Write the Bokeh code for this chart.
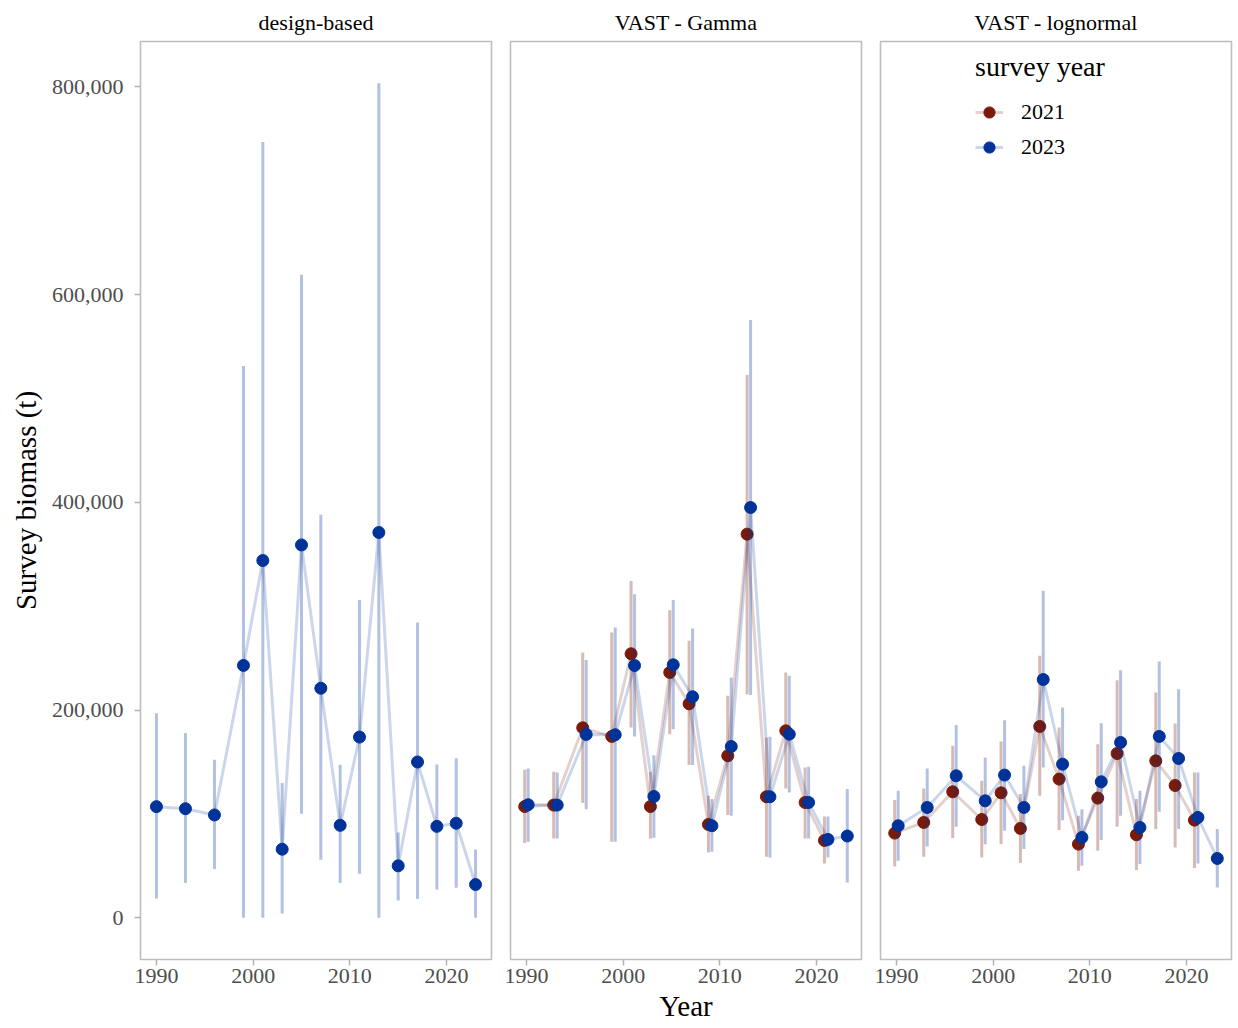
from bokeh.plotting import figure
from bokeh.layouts import row
from bokeh.models import (Range1d, FixedTicker, NumeralTickFormatter, Legend,
                          LegendItem, ColumnDataSource)
from bokeh.transform import dodge
from bokeh.embed import file_html
from bokeh.resources import INLINE

FONT = "Liberation Serif"
RED = "#7A1A08"
BLUE = "#00339A"

# ---------------- data ----------------
years_all = [1990, 1993, 1996, 1999, 2001, 2003, 2005, 2007, 2009, 2011,
             2013, 2015, 2017, 2019, 2021, 2023]
years_2021 = years_all[:-1]

# design-based (2023 survey year)
db_est = [107000, 105000, 99000, 243000, 344000, 66000, 359000, 221000,
          89000, 174000, 371000, 50000, 150000, 88000, 91000, 32000]
db_lo = [18600, 33400, 46900, 0, 0, 4100, 100100, 55800,
         33400, 42400, 0, 16700, 18000, 27300, 28900, 0]
db_hi = [197000, 177800, 152100, 531400, 747000, 129700, 619300, 388000,
         147300, 306100, 803600, 82100, 284300, 147600, 153700, 65800]

# VAST - Gamma
g21_est = [107100, 108500, 182900, 174600, 254200, 107100, 236200, 206000,
           89800, 156000, 369400, 116500, 180000, 111000, 74400]
g21_lo = [71900, 76300, 110400, 73200, 183200, 76300, 176800, 147000,
          62900, 98900, 215300, 58700, 124500, 76300, 52300]
g21_hi = [142500, 140600, 255400, 274700, 324400, 140600, 296200, 266700,
          117400, 213700, 522700, 173600, 236200, 144700, 97500]
g23_est = [108800, 108500, 176500, 176200, 242900, 116800, 243600, 212800,
           88600, 164900, 395000, 116500, 176800, 111000, 75400, 78700]
g23_lo = [73200, 76300, 104600, 73200, 174600, 77000, 181600, 147000,
          63500, 98200, 214400, 58100, 120600, 76300, 58100, 34000]
g23_hi = [143700, 139900, 248100, 279500, 311600, 156600, 306100, 278500,
          114300, 231300, 575700, 174200, 233000, 145400, 97500, 123900]

# VAST - lognormal
l21_est = [81500, 91800, 121300, 94600, 120300, 86000, 184200, 133500,
           70900, 115200, 158200, 79900, 151100, 127400, 94000]
l21_lo = [49400, 58700, 76700, 58100, 70900, 52700, 117400, 84400,
          45200, 64500, 87600, 45900, 85400, 67700, 47800]
l21_hi = [113300, 124500, 165600, 131900, 169700, 119100, 252200, 183200,
          98200, 167100, 228800, 114300, 216900, 187100, 139900]
l23_est = [88600, 106200, 136700, 112600, 137400, 106200, 229400, 147900,
           77300, 130900, 168800, 86900, 174600, 153400, 96600, 57100]
l23_lo = [54900, 68700, 87600, 70900, 83800, 66100, 144700, 93900,
          50100, 74800, 98200, 51700, 102000, 85400, 52300, 29200]
l23_hi = [122300, 143700, 185500, 154300, 190200, 146300, 314800, 202500,
          104600, 187400, 238400, 122300, 246700, 220100, 139900, 85400]

panel_titles = ["design-based", "VAST - Gamma", "VAST - lognormal"]
x_ticks = [1990, 2000, 2010, 2020]
y_ticks = [0, 200000, 400000, 600000, 800000]

# ---------------- layout ----------------
Y0, Y1 = -40200, 843800
X0, X1 = 1988.35, 2024.65
FW, FH = 351, 918
y_range = Range1d(Y0, Y1)


def make_panel(title, left, right, show_y, xlabel=None):
    p = figure(frame_width=FW, frame_height=FH, x_range=Range1d(X0, X1),
               y_range=y_range, output_backend="svg", toolbar_location=None,
               min_border_left=left, min_border_right=right,
               min_border_top=41, min_border_bottom=40,
               y_axis_location="left" if show_y else None,
               background_fill_color="white", border_fill_color="white")
    p.title.text = title
    p.title.align = "center"
    p.title.text_font = FONT
    p.title.text_font_size = "22px"
    p.title.text_font_style = "normal"
    p.title.text_color = "black"
    p.title.standoff = 14
    p.grid.visible = False
    p.outline_line_color = "#BEBEBE"
    p.outline_line_width = 1.6
    p.xaxis.ticker = FixedTicker(ticks=x_ticks)
    p.xaxis.minor_tick_line_color = None
    p.xaxis.axis_line_color = None
    p.xaxis.major_tick_line_color = "#B3B3B3"
    p.xaxis.major_tick_line_width = 1.5
    p.xaxis.major_tick_in = 0
    p.xaxis.major_tick_out = 6
    p.xaxis.major_label_standoff = 3
    p.xaxis.major_label_text_font = FONT
    p.xaxis.major_label_text_font_size = "22px"
    p.xaxis.major_label_text_color = "#4D4D4D"
    if xlabel:
        p.xaxis.axis_label = xlabel
        p.xaxis.axis_label_text_font = FONT
        p.xaxis.axis_label_text_font_size = "29px"
        p.xaxis.axis_label_text_font_style = "normal"
        p.xaxis.axis_label_text_color = "black"
        p.xaxis.axis_label_standoff = 4
    if show_y:
        p.yaxis.ticker = FixedTicker(ticks=y_ticks)
        p.yaxis.formatter = NumeralTickFormatter(format="0,0")
        p.yaxis.minor_tick_line_color = None
        p.yaxis.axis_line_color = None
        p.yaxis.major_tick_line_color = "#B3B3B3"
        p.yaxis.major_tick_line_width = 1.5
        p.yaxis.major_tick_in = 0
        p.yaxis.major_tick_out = 6
        p.yaxis.major_label_standoff = 11
        p.yaxis.major_label_text_font = FONT
        p.yaxis.major_label_text_font_size = "22px"
        p.yaxis.major_label_text_color = "#4D4D4D"
        p.yaxis.axis_label = "Survey biomass (t)"
        p.yaxis.axis_label_text_font = FONT
        p.yaxis.axis_label_text_font_size = "29px"
        p.yaxis.axis_label_text_font_style = "normal"
        p.yaxis.axis_label_text_color = "black"
        p.yaxis.axis_label_standoff = 7
    return p


def add_series(p, years, est, lo, hi, color, off):
    src = ColumnDataSource(dict(year=years, est=est, lo=lo, hi=hi))
    xx = dodge("year", off)
    p.segment(x0=xx, y0="lo", x1=xx, y1="hi", source=src,
              line_color=color, line_alpha=0.3, line_width=3)
    ln = p.line(x=xx, y="est", source=src, line_color=color,
                line_alpha=0.2, line_width=3)
    sc = p.scatter(x=xx, y="est", source=src, marker="circle", size=12,
                   fill_color=color, line_color=color)
    return ln, sc


p1 = make_panel(panel_titles[0], 140, 9, True)
p2 = make_panel(panel_titles[1], 10, 9, False, xlabel="Year")
p3 = make_panel(panel_titles[2], 10, 5, False)

add_series(p1, years_all, db_est, db_lo, db_hi, BLUE, 0.0)

add_series(p2, years_2021, g21_est, g21_lo, g21_hi, RED, -0.18)
add_series(p2, years_all, g23_est, g23_lo, g23_hi, BLUE, 0.18)

r21 = add_series(p3, years_2021, l21_est, l21_lo, l21_hi, RED, -0.18)
r23 = add_series(p3, years_all, l23_est, l23_lo, l23_hi, BLUE, 0.18)

legend = Legend(
    items=[LegendItem(label="2021", renderers=list(r21)),
           LegendItem(label="2023", renderers=list(r23))],
    title="survey year", location=(95, 798),
    title_text_font=FONT, title_text_font_size="28px",
    title_text_font_style="normal", title_text_color="black",
    title_standoff=15,
    label_text_font=FONT, label_text_font_size="22px",
    label_text_color="black", label_standoff=18, label_height=22,
    glyph_width=28, glyph_height=28, spacing=7, padding=0, margin=0,
    border_line_color=None, background_fill_alpha=0)
p3.add_layout(legend)

layout = row(p1, p2, p3)
open("out.html", "w").write(file_html(layout, INLINE))
